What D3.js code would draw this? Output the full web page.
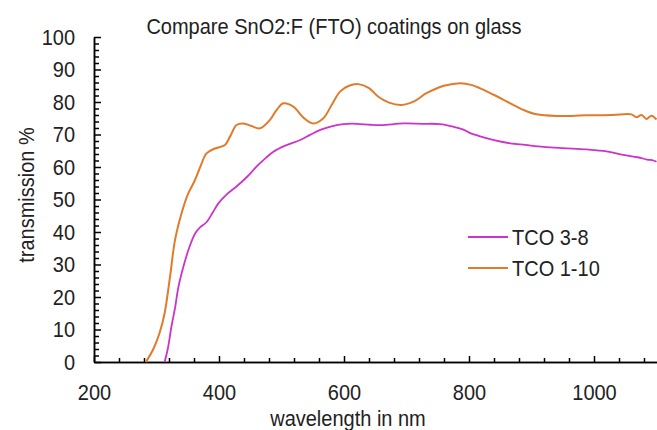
<!DOCTYPE html>
<html>
<head>
<meta charset="utf-8">
<script src="https://cdn.jsdelivr.net/npm/d3@7"></script>
<style>
  body { margin: 0; background: #fff; }
  svg { display: block; font-family: "Liberation Sans", Arial, sans-serif; }
  svg text { transform-box: fill-box; transform-origin: center; transform: scaleY(1.14); }
  .axis text { font-size: 20px; fill: #222; }
  .axis path, .axis line { stroke: #000; stroke-width: 1.5; }
</style>
</head>
<body>
<svg id="vis" width="657" height="430"></svg>
<script>
// Datos
const SERIES = ["TCO 3-8", "TCO 1-10"];
const COLORES = ["#cc33cc", "#e07b2c"];

// TCO 3-8 (magenta)
const tco38_nm = [313, 318, 324, 330, 335, 343, 352, 362, 370, 380, 390, 399, 412, 428, 445, 460, 475, 487, 505, 530, 545, 562, 580, 599, 620, 642, 660, 695, 725, 754, 775, 790, 802, 815, 840, 866, 890, 919, 950, 988, 1020, 1047, 1070, 1085, 1095, 1100];
const tco38_T  = [0, 4, 11, 17, 23, 29.3, 35, 39.6, 41.5, 43, 46, 48.8, 51.5, 54, 57, 60.1, 62.8, 64.7, 66.5, 68.3, 69.8, 71.4, 72.5, 73.2, 73.3, 73, 72.9, 73.4, 73.3, 73.2, 72.4, 71.6, 70.4, 69.6, 68.3, 67.3, 66.8, 66.2, 65.8, 65.4, 64.8, 63.7, 63, 62.3, 62, 61.6];

// TCO 1-10 (naranjo)
const tco110_nm = [283, 295, 305, 313, 321.6, 329.6, 340, 350, 361.6, 371, 380, 393.6, 409.6, 418, 428, 439, 452, 465.6, 481.6, 492, 503, 519, 535, 551, 567, 580, 593.6, 608, 623, 640, 655, 672, 692, 712, 732, 760, 786, 805, 818, 842, 866, 888, 908, 940, 988, 1030, 1060, 1068, 1076, 1084, 1092, 1100];
const tco110_T  = [0, 4, 9, 15, 26.2, 37.5, 45.7, 51.5, 56, 60.5, 64.2, 65.7, 66.8, 69.5, 72.9, 73.4, 72.6, 71.9, 74.5, 77.5, 79.6, 78.6, 75.2, 73.4, 75, 79, 83.2, 85, 85.5, 84.3, 81.6, 79.8, 79.1, 80.2, 82.7, 85, 85.8, 85.2, 84.2, 82, 79.6, 77.5, 76.2, 75.7, 75.9, 76, 76.2, 75.3, 76, 74.8, 75.8, 74.6];

// Ticks
const xTicks = [200, 400, 600, 800, 1000];
const yTicks = [0, 10, 20, 30, 40, 50, 60, 70, 80, 90, 100];

const TITULO = "Compare SnO2:F (FTO) coatings on glass";
const XLABEL = "wavelength in nm";
const YLABEL = "transmission %";

const SVG = d3.select("#vis");

// Escalas
const x = d3.scaleLinear().domain([200, 1100]).range([94, 656.5]);
const y = d3.scaleLinear().domain([0, 100]).range([362, 37]);

// Ticks menores (cada 40 nm y cada 2 %)
const xMenores = d3.range(200, 1101, 40).filter(v => !xTicks.includes(v));
const yMenores = d3.range(0, 101, 2).filter(v => !yTicks.includes(v));

// Eje Y
SVG.append("g").attr("class", "axis")
  .attr("transform", `translate(${x(200)},0)`)
  .call(d3.axisLeft(y).tickValues(yMenores).tickSizeInner(-5).tickSizeOuter(0).tickFormat(""));
SVG.append("g").attr("class", "axis")
  .attr("transform", `translate(${x(200)},0)`)
  .call(d3.axisLeft(y).tickValues(yTicks).tickSizeInner(-7).tickSizeOuter(0).tickPadding(19));

// Eje X
SVG.append("g").attr("class", "axis")
  .attr("transform", `translate(0,${y(0)})`)
  .call(d3.axisBottom(x).tickValues(xMenores).tickSizeInner(-4).tickSizeOuter(0).tickFormat(""));
SVG.append("g").attr("class", "axis")
  .attr("transform", `translate(0,${y(0)})`)
  .call(d3.axisBottom(x).tickValues(xTicks).tickSizeInner(-6).tickSizeOuter(0)
    .tickPadding(23).tickFormat(d3.format("d")));

// Textos
SVG.append("text")
  .attr("x", 334).attr("y", 33)
  .attr("text-anchor", "middle")
  .attr("font-size", 20).attr("fill", "#222")
  .text(TITULO);

SVG.append("text")
  .attr("x", 348).attr("y", 425)
  .attr("text-anchor", "middle")
  .attr("font-size", 20).attr("fill", "#222")
  .text(XLABEL);

// El texto rotado va dentro de un G para no pisar su transform
SVG.append("g")
  .attr("transform", "translate(33,195) rotate(-90)")
  .append("text")
  .attr("text-anchor", "middle")
  .attr("font-size", 20).attr("fill", "#222")
  .text(YLABEL);

// Curvas
const linea = d3.line()
  .x(d => x(d[0]))
  .y(d => y(d[1]))
  .curve(d3.curveCatmullRom.alpha(0.5));

const datos = [
  d3.zip(tco38_nm, tco38_T),
  d3.zip(tco110_nm, tco110_T)
];

SVG.selectAll(".curva")
  .data(datos)
  .join("path")
  .attr("class", "curva")
  .attr("fill", "none")
  .attr("stroke", (d, i) => COLORES[i])
  .attr("stroke-width", (d, i) => i === 1 ? 2 : 1.8)
  .attr("d", linea);

// Leyenda
const leyenda = SVG.selectAll(".leyenda")
  .data(SERIES)
  .join("g")
  .attr("class", "leyenda")
  .attr("transform", (d, i) => `translate(468, ${237 + i * 31})`);

leyenda.append("line")
  .attr("x1", 0).attr("x2", 40)
  .attr("stroke", (d, i) => COLORES[i])
  .attr("stroke-width", 2);

leyenda.append("text")
  .attr("x", 44).attr("dy", "0.35em")
  .attr("font-size", 20).attr("fill", "#222")
  .text(d => d);
</script>
</body>
</html>
